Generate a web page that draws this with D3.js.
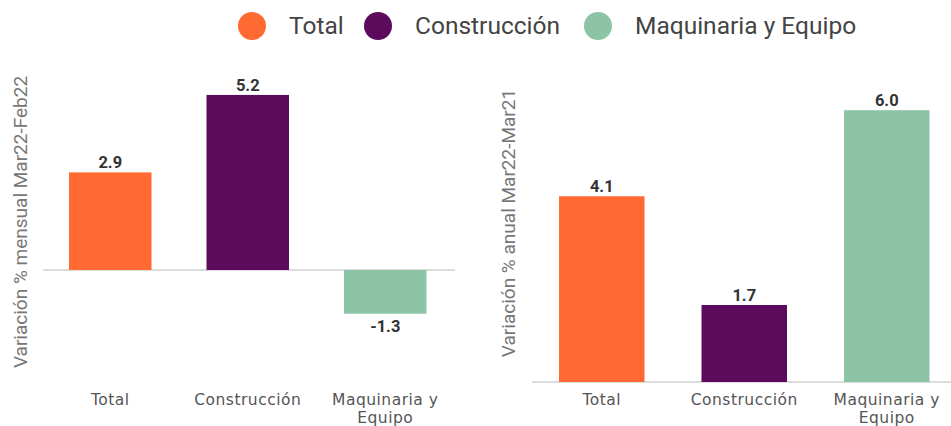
<!DOCTYPE html>
<html><head><meta charset="utf-8">
<script src="https://cdn.jsdelivr.net/npm/d3@7"></script>
<style>body{margin:0;background:#fff}svg{display:block}</style>
</head><body>
<svg id="c" width="951" height="426"></svg>
<script>
const categories = ["Total", "Construcción", "Maquinaria y Equipo"];
const categoryLines = [["Total"], ["Construcción"], ["Maquinaria y", "Equipo"]];
const monthlyValues = [2.9, 5.2, -1.3];
const annualValues = [4.1, 1.7, 6.0];
const monthlyLabels = ["2.9", "5.2", "-1.3"];
const annualLabels = ["4.1", "1.7", "6.0"];
const colors = ["#FF6A33", "#5C0B5C", "#8DC4A6"];
const monthlyTitle = "Variación % mensual Mar22-Feb22";
const annualTitle = "Variación % anual Mar22-Mar21";

const svg = d3.select("#c");
const catFont = "'DejaVu Sans', sans-serif";

function panel(opt) {
  const x = d3.scaleBand().domain(categories).range(opt.xr).paddingInner(0.4).paddingOuter(0.2);
  const y = d3.scaleLinear().domain(opt.yd).range(opt.yr);
  const g = svg.append("g");
  g.append("line").attr("x1", opt.lx[0]).attr("x2", opt.lx[1])
    .attr("y1", y(0)).attr("y2", y(0)).attr("stroke", "#dcdcdc").attr("stroke-width", 2);
  g.selectAll("rect.bar").data(opt.values).join("rect").attr("class", "bar")
    .attr("x", (d, i) => x(categories[i])).attr("width", x.bandwidth())
    .attr("y", d => y(Math.max(0, d))).attr("height", d => Math.abs(y(d) - y(0)))
    .attr("fill", (d, i) => colors[i]);
  g.selectAll("text.val").data(opt.values).join("text").attr("class", "val")
    .attr("x", (d, i) => x(categories[i]) + x.bandwidth() / 2)
    .attr("y", d => d >= 0 ? y(d) - 4 : y(d) + 18)
    .attr("text-anchor", "middle").attr("font-family", "Roboto, sans-serif")
    .attr("font-weight", "bold").attr("font-size", 16.5).attr("fill", "#333")
    .text((d, i) => opt.labels[i]);
  const cl = g.selectAll("text.cat").data(categoryLines).join("text").attr("class", "cat")
    .attr("x", (d, i) => x(categories[i]) + x.bandwidth() / 2)
    .attr("y", 405).attr("text-anchor", "middle").attr("font-family", catFont)
    .attr("font-size", 15.5).attr("letter-spacing", 0.5).attr("fill", "#555");
  cl.selectAll("tspan").data(d => d).join("tspan")
    .attr("x", function () { return this.parentNode.getAttribute("x"); })
    .attr("dy", (d, j) => j === 0 ? 0 : 18).text(d => d);
  g.append("text").attr("transform", `translate(${opt.tx},${opt.ty}) rotate(-90)`)
    .attr("text-anchor", "middle").attr("font-family", "Roboto, sans-serif")
    .attr("font-size", 19).attr("fill", "#777").text(opt.title);
}

panel({ xr: [41.5, 454], yd: [-3, 6], yr: [371, 68], lx: [43, 455],
  values: monthlyValues, labels: monthlyLabels, title: monthlyTitle, tx: 27, ty: 222 });
panel({ xr: [530.5, 958], yd: [0, 6.5], yr: [382, 87.55], lx: [532, 951],
  values: annualValues, labels: annualLabels, title: annualTitle, tx: 515, ty: 223 });

// legend
const legX = [252, 378, 598];
const lg = svg.append("g");
categories.forEach((c, i) => {
  lg.append("circle").attr("cx", legX[i]).attr("cy", 26).attr("r", 14).attr("fill", colors[i]);
  lg.append("text").attr("x", legX[i] + 37).attr("y", 34).attr("font-family", "Roboto, sans-serif")
    .attr("font-size", 24.5).attr("fill", "#444").text(c);
});
</script>
</body></html>
